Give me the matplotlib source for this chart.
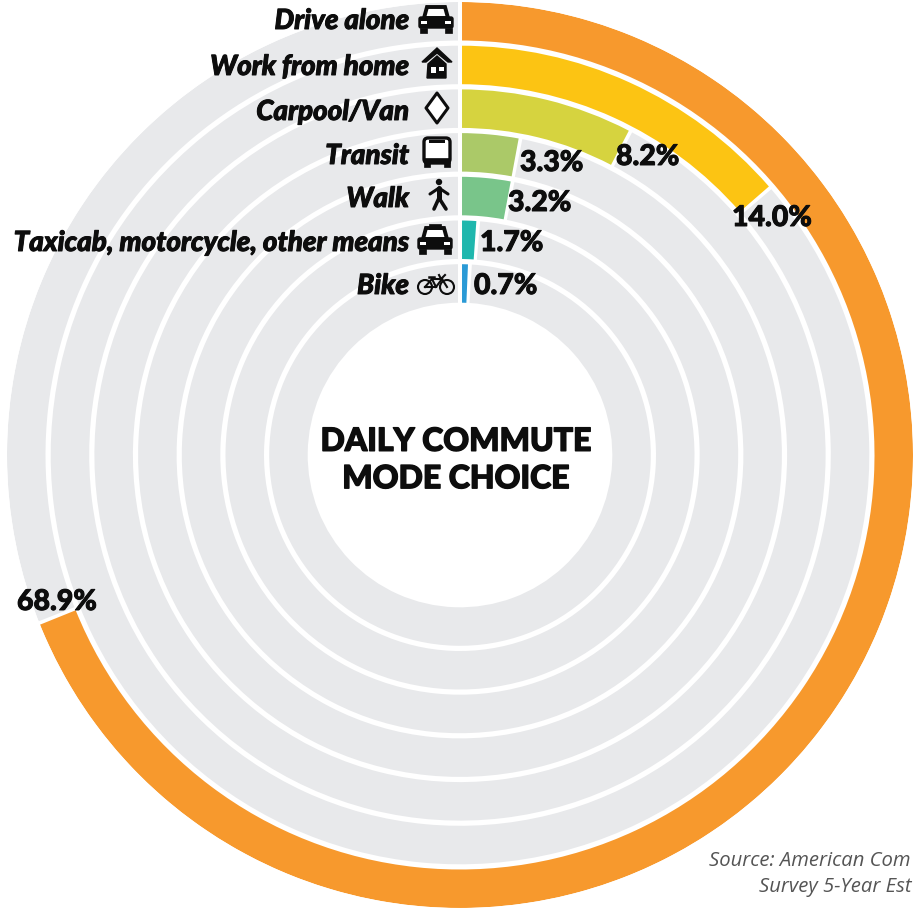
import matplotlib
matplotlib.use("Agg")
import numpy as np
import matplotlib.pyplot as plt
import matplotlib.patheffects as pe
from matplotlib.patches import Circle, FancyBboxPatch, Polygon, Rectangle

# chart data, outer ring first
modes = ["Drive alone", "Work from home", "Carpool/Van", "Transit", "Walk",
         "Taxicab, motorcycle, other means", "Bike"]
pct_labels = ["68.9%", "14.0%", "8.2%", "3.3%", "3.2%", "1.7%", "0.7%"]
# sweep of each coloured arc (degrees clockwise from the top)
sweep_deg = [248.0, 49.0, 27.5, 10.5, 10.5, 4.0, 2.4]
colors = ["#f7992d", "#fcc413", "#d6d33f", "#abc968", "#79c58a", "#1fb7ad", "#2a9ad6"]
GRAY = "#e8e9eb"
INK = "#0d0d0d"

W, H = 914, 909
CX, CY, R = 460, 455, 453
PITCH = 43.7

fig = plt.figure(figsize=(W / 100, H / 100), dpi=100)
fig.patch.set_facecolor("white")

# rings
ax = fig.add_axes([(CX - R) / W, (H - CY - R) / H, 2 * R / W, 2 * R / H], projection="polar")
ax.set_theta_zero_location("N")
ax.set_theta_direction(-1)
rmax = R / PITCH
ax.set_ylim(0, rmax)
ax.set_axis_off()

width = 38.5 / PITCH
for i, (sw, col) in enumerate(zip(sweep_deg, colors)):
    bottom = rmax - i - width
    th = np.deg2rad(sw)
    gap = 3.5 / (bottom * PITCH + 19)
    ax.bar(th + gap, width, width=2 * np.pi - th - gap, bottom=bottom, align="edge",
           color=GRAY, linewidth=0)
    ax.bar(0, width, width=th, bottom=bottom, align="edge", color=col, linewidth=0)
# white slit at twelve o'clock
ax.plot([0, 0], [rmax - 7 + 0.1, rmax], color="white", lw=2.9, solid_capstyle="butt")

# overlay in pixel coordinates for text and icons
ov = fig.add_axes([0, 0, 1, 1])
ov.set_xlim(0, W)
ov.set_ylim(H, 0)
ov.set_axis_off()
ov.patch.set_alpha(0)

heavy = [pe.withStroke(linewidth=0.7, foreground=INK)]

label_y = [21, 67, 112, 156, 199, 243, 286]
for name, y in zip(modes, label_y):
    ov.text(409, y, name, ha="right", va="center", fontsize=20, family="Lato",
            weight="black", style="italic", color=INK, path_effects=heavy)

pct_pos = [(17, 602), (732, 218), (616, 157), (520, 163), (508, 203), (480, 243), (474, 286)]
for lab, (x, y) in zip(pct_labels, pct_pos):
    ov.text(x, y, lab, ha="left", va="center", fontsize=20.5, family="Lato",
            weight="black", color=INK, path_effects=heavy)

ov.text(456, 460, "DAILY COMMUTE\nMODE CHOICE", ha="center", va="center", fontsize=23,
        family="Lato", weight="black", color=INK, linespacing=1.35,
        path_effects=[pe.withStroke(linewidth=1.0, foreground=INK)])

ov.text(709, 861, "Source: American Com", ha="left", va="center", fontsize=14.6,
        family="Open Sans", style="italic", color="#555555")
ov.text(759, 887, "Survey 5-Year Est", ha="left", va="center", fontsize=14.6,
        family="Open Sans", style="italic", color="#555555")


# icons
def car(cx, cy, taxi=False):
    ov.add_patch(Polygon([(cx - 12, cy - 2), (cx - 9, cy - 13), (cx + 9, cy - 13), (cx + 12, cy - 2)],
                         closed=True, fc="white", ec=INK, lw=2.8))
    ov.add_patch(FancyBboxPatch((cx - 17, cy - 3), 34, 11, boxstyle="round,pad=0,rounding_size=2",
                                fc=INK, ec=INK, lw=1))
    ov.add_patch(Rectangle((cx - 16, cy + 8), 7, 5, fc=INK, ec=INK, lw=0.5))
    ov.add_patch(Rectangle((cx + 9, cy + 8), 7, 5, fc=INK, ec=INK, lw=0.5))
    ov.add_patch(Rectangle((cx - 15, cy + 1), 6, 3, fc="white", ec="none"))
    ov.add_patch(Rectangle((cx + 9, cy + 1), 6, 3, fc="white", ec="none"))
    if taxi:
        ov.add_patch(Rectangle((cx - 6, cy - 17), 12, 5, fc=INK, ec=INK, lw=0.5))


def house(cx, cy):
    ov.add_patch(Polygon([(cx - 15, cy - 1), (cx, cy - 15), (cx + 15, cy - 1), (cx + 11, cy - 1),
                          (cx, cy - 10), (cx - 11, cy - 1)], closed=True, fc=INK, ec=INK, lw=1))
    ov.add_patch(Polygon([(cx - 9, cy + 1), (cx, cy - 7), (cx + 9, cy + 1), (cx + 9, cy + 15), (cx - 10, cy + 15)],
                         closed=True, fc=INK, ec=INK, lw=1))
    ov.add_patch(Rectangle((cx - 6, cy + 4), 5, 6, fc="white", ec="none"))
    ov.add_patch(Rectangle((cx + 2, cy + 4), 5, 4, fc="white", ec="none"))


def diamond(cx, cy):
    ov.add_patch(Polygon([(cx, cy - 15), (cx + 11, cy), (cx, cy + 15), (cx - 11, cy)],
                         closed=True, fc="white", ec=INK, lw=2.2, joinstyle="round"))


def bus(cx, cy):
    ov.add_patch(FancyBboxPatch((cx - 13, cy - 14), 26, 25, boxstyle="round,pad=0,rounding_size=4",
                                fc="white", ec=INK, lw=2.4))
    ov.add_patch(Rectangle((cx - 13, cy + 6), 26, 5, fc=INK, ec=INK, lw=0.5))
    ov.add_patch(Rectangle((cx - 8, cy - 12), 16, 2.5, fc=INK, ec="none"))
    ov.add_patch(Rectangle((cx - 13, cy + 11), 6, 4, fc=INK, ec=INK, lw=0.5))
    ov.add_patch(Rectangle((cx + 7, cy + 11), 6, 4, fc=INK, ec=INK, lw=0.5))


def walker(cx, cy):
    ov.add_patch(Circle((cx, cy - 13), 3.2, fc=INK, ec="none"))
    ov.plot([cx, cx], [cy - 7, cy + 4], color=INK, lw=3.6, solid_capstyle="round")
    ov.plot([cx - 9, cx, cx + 9], [cy - 1, cy - 7, cy - 1], color=INK, lw=2.2, solid_capstyle="round")
    ov.plot([cx - 5, cx, cx + 7], [cy + 14, cy + 3, cy + 14], color=INK, lw=2.6, solid_capstyle="round")


def bike(cx, cy):
    for dx in (-11, 11):
        ov.add_patch(Circle((cx + dx, cy + 3), 7, fc="none", ec=INK, lw=1.5))
    ov.plot([cx - 11, cx - 4, cx + 6, cx + 11], [cy + 3, cy - 5, cy - 5, cy + 3], color=INK, lw=1.5)
    ov.plot([cx - 11, cx, cx + 6], [cy + 3, cy + 3, cy - 5], color=INK, lw=1.5)
    ov.plot([cx - 4, cx], [cy - 5, cy + 3], color=INK, lw=1.5)
    ov.plot([cx - 7, cx - 2], [cy - 7, cy - 7], color=INK, lw=1.8)
    ov.plot([cx + 3, cx + 5, cx + 9], [cy - 9, cy - 5, cy - 9], color=INK, lw=1.5)


car(436, 20)
house(437, 63)
diamond(437, 108)
bus(437, 152)
walker(439, 195)
car(435, 241, taxi=True)
bike(436, 284)

fig.savefig("out.png", dpi=100)
